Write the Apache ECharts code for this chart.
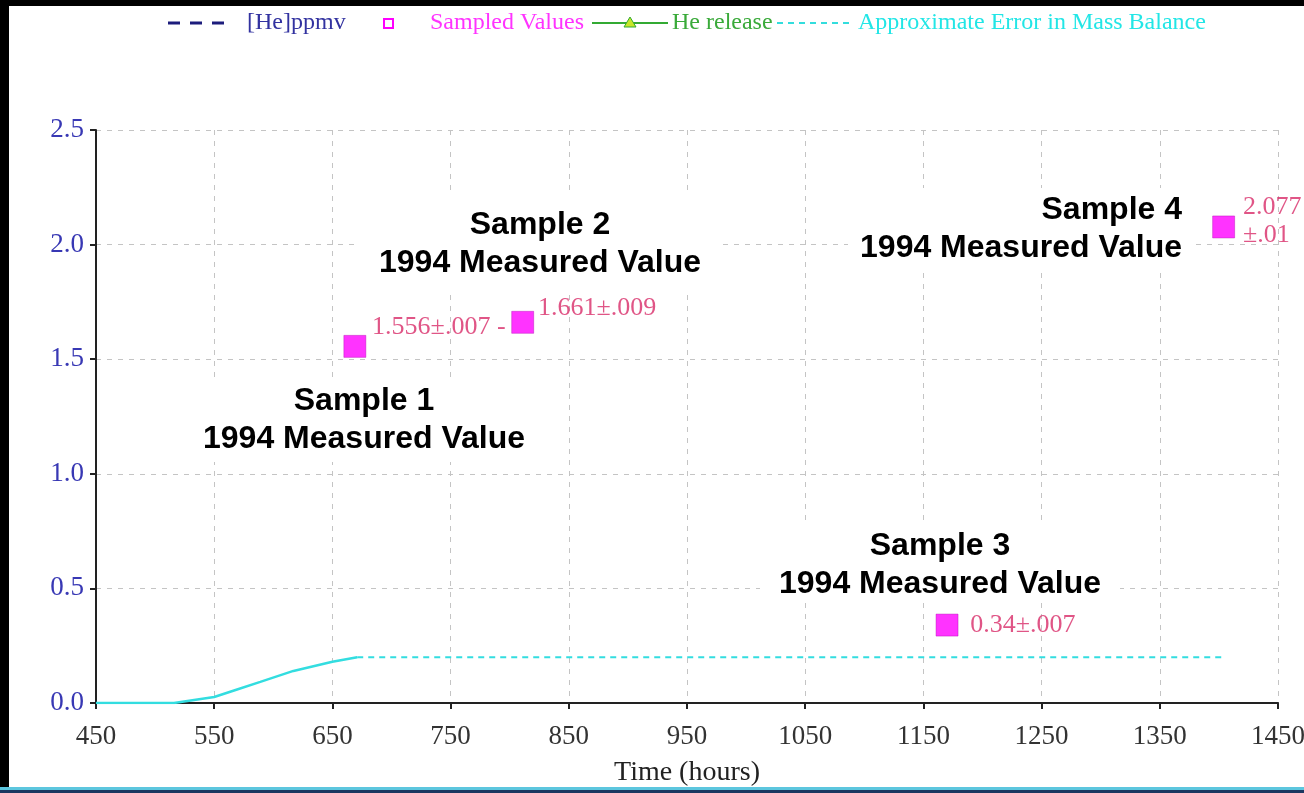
<!DOCTYPE html>
<html>
<head>
<meta charset="utf-8">
<script src="https://cdn.jsdelivr.net/npm/echarts@6/dist/echarts.min.js"></script>
<style>
html,body{margin:0;padding:0;background:#fff;}
#chart{width:1304px;height:793px;}
</style>
</head>
<body>
<div id="chart"></div>
<script>
// ---- data ----
const xTickValues = [450, 550, 650, 750, 850, 950, 1050, 1150, 1250, 1350, 1450];
const yTickValues = [0.0, 0.5, 1.0, 1.5, 2.0, 2.5];

const sampleHours = [669, 811, 1170, 1404];
const sampleValues = [1.556, 1.661, 0.34, 2.077];
const sampleLabels = ['1.556\u00b1.007 -', '1.661\u00b1.009', '0.34\u00b1.007', '2.077\n\u00b1.01'];

const errRampHours = [450, 516, 533, 550, 570, 589, 617, 650, 671];
const errRampValues = [0, 0, 0.013, 0.026, 0.06, 0.092, 0.14, 0.18, 0.2];
const errFlatHours = [671, 1403];
const errFlatValues = [0.2, 0.2];

const annotations = [
  'Sample 1\n1994 Measured Value',
  'Sample 2\n1994 Measured Value',
  'Sample 3\n1994 Measured Value',
  'Sample 4\n1994 Measured Value'
];
const legendNames = ['[He]ppmv', 'Sampled Values', 'He release', 'Approximate Error in Mass Balance'];

// ---- chart ----
const chart = echarts.init(document.getElementById('chart'));
const serif = '"Liberation Serif", "Times New Roman", serif';
const sans = '"Liberation Sans", Arial, sans-serif';

const labelOffsets = [[0, -19], [0, -14], [6, 0], [2, -6]];
const labelDist = [6, 4, 6, 6];

const sampleData = sampleHours.map((h, i) => ({
  value: [h, sampleValues[i]],
  label: {
    show: true,
    formatter: sampleLabels[i],
    position: 'right',
    distance: labelDist[i],
    offset: labelOffsets[i],
    align: 'left',
    lineHeight: 28
  }
}));

const annoBoxes = [
  {x: 185, y: 378, w: 360, h: 84, tx: 364, ty: 420, align: 'center'},
  {x: 360, y: 193, w: 362, h: 96, tx: 540, ty: 244, align: 'center'},
  {x: 760, y: 522, w: 360, h: 80, tx: 940, ty: 565, align: 'center'},
  {x: 848, y: 188, w: 345, h: 80, tx: 1182, ty: 229, align: 'right'}
];

const graphics = [];
// frame
graphics.push({type: 'rect', shape: {x: 0, y: 0, width: 9, height: 793}, style: {fill: '#000'}, z: 100});
graphics.push({type: 'rect', shape: {x: 0, y: 0, width: 1304, height: 6}, style: {fill: '#000'}, z: 100});
graphics.push({type: 'rect', shape: {x: 0, y: 787, width: 1304, height: 3}, style: {fill: '#5cc6de'}, z: 100});
graphics.push({type: 'rect', shape: {x: 0, y: 790, width: 1304, height: 3}, style: {fill: '#1b3760'}, z: 100});

// annotation boxes
annoBoxes.forEach((b, i) => {
  graphics.push({type: 'rect', shape: {x: b.x, y: b.y, width: b.w, height: b.h}, style: {fill: '#fff'}, z: 50});
  graphics.push({
    type: 'text', z: 51,
    style: {
      x: b.tx, y: b.ty, text: annotations[i], fill: '#000',
      font: 'bold 32px ' + sans, align: b.align, verticalAlign: 'middle', lineHeight: 38
    }
  });
});

// legend
const ly = 23;
const lfont = '24px ' + serif;
graphics.push({type: 'line', shape: {x1: 168, y1: ly, x2: 232, y2: ly}, style: {stroke: '#1c1c7c', lineWidth: 3, lineDash: [12, 10]}, z: 60});
graphics.push({type: 'text', style: {x: 247, y: ly, text: legendNames[0], fill: '#3232a0', font: lfont, verticalAlign: 'middle'}, z: 60});
graphics.push({type: 'rect', shape: {x: 384, y: 19, width: 9, height: 9}, style: {fill: '#fff', stroke: '#ff00ff', lineWidth: 2}, z: 60});
graphics.push({type: 'text', style: {x: 430, y: ly, text: legendNames[1], fill: '#ff33ff', font: lfont, verticalAlign: 'middle'}, z: 60});
graphics.push({type: 'line', shape: {x1: 592, y1: ly, x2: 668, y2: ly}, style: {stroke: '#33aa33', lineWidth: 2}, z: 60});
graphics.push({type: 'polygon', shape: {points: [[630, 17], [624, 27], [636, 27]]}, style: {fill: '#c8e628', stroke: '#33aa33', lineWidth: 1}, z: 61});
graphics.push({type: 'text', style: {x: 672, y: ly, text: legendNames[2], fill: '#3aaa3a', font: lfont, verticalAlign: 'middle'}, z: 60});
graphics.push({type: 'line', shape: {x1: 777, y1: ly, x2: 852, y2: ly}, style: {stroke: '#33dddd', lineWidth: 2, lineDash: [6, 5]}, z: 60});
graphics.push({type: 'text', style: {x: 858, y: ly, text: legendNames[3], fill: '#22e6e6', font: lfont, verticalAlign: 'middle'}, z: 60});

const option = {
  backgroundColor: '#fff',
  animation: false,
  grid: {left: 96, right: 26, top: 130, bottom: 90, containLabel: false, outerBoundsMode: 'none'},
  xAxis: {
    type: 'value',
    min: 450, max: 1450, interval: 100,
    name: 'Time (hours)',
    nameLocation: 'middle',
    nameGap: 56,
    nameTextStyle: {fontFamily: serif, fontSize: 28, color: '#222'},
    axisLine: {show: true, onZero: false, lineStyle: {color: '#222', width: 2}},
    axisTick: {show: true, length: 6, lineStyle: {color: '#222', width: 2}},
    axisLabel: {fontFamily: serif, fontSize: 27, color: '#333', margin: 20,
      formatter: v => xTickValues.indexOf(v) >= 0 ? String(v) : ''},
    splitLine: {show: true, lineStyle: {color: '#c4c4c4', type: [5, 6], width: 1}}
  },
  yAxis: {
    type: 'value',
    min: 0, max: 2.5, interval: 0.5,
    axisLine: {show: true, lineStyle: {color: '#222', width: 2}},
    axisTick: {show: true, length: 6, lineStyle: {color: '#222', width: 2}},
    axisLabel: {fontFamily: serif, fontSize: 27, color: '#3838b4', margin: 12,
      formatter: v => v.toFixed(1)},
    splitLine: {show: true, lineStyle: {color: '#c4c4c4', type: [5, 6], width: 1}}
  },
  series: [
    {
      name: 'Approximate Error in Mass Balance',
      type: 'line',
      data: errRampHours.map((h, i) => [h, errRampValues[i]]),
      showSymbol: false, symbol: 'none',
      lineStyle: {color: '#33dde0', width: 2.5},
      z: 3
    },
    {
      name: 'Approximate Error in Mass Balance (cont.)',
      type: 'line',
      data: errFlatHours.map((h, i) => [h, errFlatValues[i]]),
      showSymbol: false, symbol: 'none',
      lineStyle: {color: '#33dde0', width: 2, type: [6, 5]},
      z: 3
    },
    {
      name: 'Sampled Values',
      type: 'scatter',
      data: sampleData,
      symbol: 'rect',
      symbolSize: 22,
      itemStyle: {color: '#ff00ff', borderColor: '#b000b0', borderWidth: 0.5},
      label: {color: '#d82a68', fontFamily: serif, fontSize: 26},
      z: 5
    }
  ],
  graphic: graphics
};
chart.setOption(option);
</script>
</body>
</html>
